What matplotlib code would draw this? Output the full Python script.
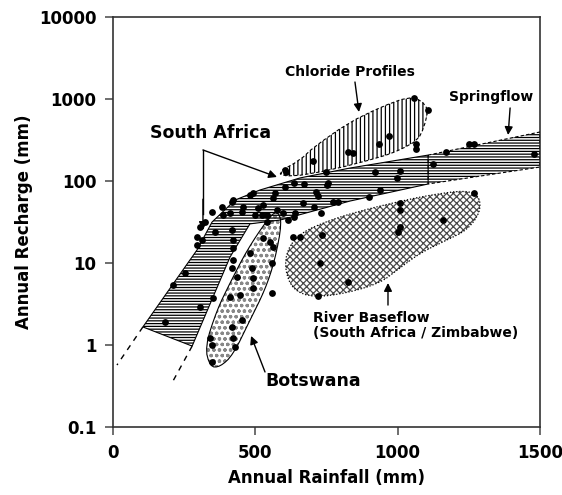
import numpy as np
import matplotlib
matplotlib.use('Agg')
import matplotlib.pyplot as plt
from matplotlib.patches import Polygon

plt.rcParams['font.family'] = ['DejaVu Sans']
plt.rcParams['font.weight'] = 'bold'
plt.rcParams['axes.labelweight'] = 'bold'
plt.rcParams['hatch.linewidth'] = 0.9

# region outlines: annual rainfall (mm), annual recharge (mm)
sa_x = [105, 295, 348, 429, 516, 657, 833, 1107, 1107, 833, 587, 481, 411, 278]
sa_y = [1.66, 14.4, 31.6, 58.6, 77.6, 109, 144, 207, 92, 57, 33.4, 30, 11.8, 0.97]

spring_x = [1107, 1500, 1500, 1107]
spring_y = [207, 396, 148, 92]

chloride_x = [576, 657, 706, 826, 941, 1036, 1082, 1107, 1093, 1071, 1008, 941, 766, 622]
chloride_y = [125, 180, 260, 509, 798, 1057, 972, 735, 456, 316, 239, 196, 136, 112]

bots_x = [341, 323, 365, 411, 471, 541, 576, 594, 569, 534, 481, 422, 376]
bots_y = [0.54, 0.95, 2.67, 5.7, 14.4, 33.4, 44, 31.6, 10.9, 4.7, 2.0, 0.76, 0.54]

base_x = [611, 657, 762, 878, 998, 1114, 1244, 1289, 1289, 1244, 1173, 1078,
          998, 938, 822, 703, 632, 604]
base_y = [14.4, 23.2, 33.4, 44, 55.5, 67.5, 77.6, 63.8, 40.7, 25.2, 19.1, 13.2,
          8.2, 5.7, 4.3, 3.8, 4.7, 8.2]

# extrapolation (dashed) lines
ext1_x = [105, 14]
ext1_y = [1.66, 0.57]
ext2_x = [278, 207]
ext2_y = [0.97, 0.344]

# observations
pts_x = [1057, 1107, 970, 934, 1064, 1064, 826, 843, 703, 608, 748,
         1251, 1268, 1170, 1479, 1124,
         920, 1008, 998, 636, 671, 755, 713, 720, 938, 899, 773, 790, 667, 706,
         731, 1008, 1008, 1159, 1268, 1008, 1001, 636, 632, 734, 727, 826, 720,
         604, 569, 562, 527, 509, 523, 541, 615,
         481, 418, 383, 453, 348, 499, 418, 295, 313, 422, 457,
         422, 418, 488, 559, 436, 492, 492, 446, 351, 306, 559, 453, 418, 341,
         348, 422, 429, 348,
         253, 211, 183, 411, 358, 411, 541, 422, 527, 552, 481, 562, 295, 323,
         597, 639, 576, 386, 306, 422, 492, 604, 752, 657]
pts_y = [1030, 734, 354, 283, 283, 246, 226, 219, 175, 129, 129,
         283, 283, 226, 213, 161,
         129, 132, 109, 94.6, 92, 94.6, 73.5, 65.6, 77.6, 63.8, 55.5, 55.5, 53.9, 48.2,
         40.7, 53.9, 44.3, 33.4, 71.4, 27.5, 23.9, 36.4, 20.8, 21.9, 10, 5.87, 3.96,
         84.5, 71.4, 62, 51, 46.9, 38.5, 31.6, 33.4,
         67.5, 55.5, 48.2, 41.9, 41.9, 38.5, 25.3, 16.6, 19.1, 15.2, 48.2,
         10.9, 8.7, 8.7, 10, 6.75, 6.56, 4.96, 4.07, 3.74, 2.91, 4.31, 2.02, 1.66, 1.22,
         1.0, 1.22, 0.95, 0.62,
         7.55, 5.39, 1.91, 3.85, 23.9, 40.7, 38.5, 19.1, 20.2, 18, 13.2, 15.7, 20.8, 31.6,
         40.7, 40.7, 44.3, 38.5, 27.5, 58.6, 71.4, 136, 89.4, 20.8]


def smooth(x, y, n=2):
    # corner cutting in (x, log y) so the closed outlines look rounded
    p = np.column_stack([np.asarray(x, float), np.log10(y)])
    for _ in range(n):
        q = np.roll(p, -1, axis=0)
        a = 0.75 * p + 0.25 * q
        b = 0.25 * p + 0.75 * q
        p = np.empty((2 * len(a), 2))
        p[0::2] = a
        p[1::2] = b
    return np.column_stack([p[:, 0], 10 ** p[:, 1]])


def region(ax, xy, hatch, hcolor='black', ls='-', lw=0.8):
    ax.add_patch(Polygon(xy, closed=True, fill=False, hatch=hatch,
                         edgecolor=hcolor, linewidth=0, zorder=1))
    ax.add_patch(Polygon(xy, closed=True, fill=False, edgecolor='black',
                         linestyle=ls, linewidth=lw, zorder=3))


fig = plt.figure(figsize=(5.62, 4.95), dpi=100)
ax = fig.add_axes([113 / 562, 1 - 427 / 495, 427 / 562, 410 / 495])
ax.set_yscale('log')
ax.set_xlim(0, 1500)
ax.set_ylim(0.1, 10000)

region(ax, smooth(base_x, base_y), 'xxxxx', hcolor='#4a4a4a', ls=(0, (1, 1.5)), lw=0.9)
region(ax, smooth(bots_x, bots_y), 'ooo', hcolor='#888888', lw=0.8)
region(ax, smooth(chloride_x, chloride_y, 1), '||||', ls=(0, (3, 2)))
region(ax, np.column_stack([sa_x, sa_y]), '------')
region(ax, np.column_stack([spring_x, spring_y]), '------', ls=(0, (3, 2)))

ax.plot(ext1_x, ext1_y, color='black', lw=1, ls=(0, (4, 4)))
ax.plot(ext2_x, ext2_y, color='black', lw=1, ls=(0, (4, 4)))

ax.scatter(pts_x, pts_y, s=24, color='black', zorder=4, linewidths=0)

arrow = dict(arrowstyle='-|>', color='black', lw=1, mutation_scale=12,
             shrinkA=0, shrinkB=0)
ax.text(833, 2134, 'Chloride Profiles', fontsize=10, ha='center', va='center')
ax.annotate('', xy=(864, 694), xytext=(850, 1611), arrowprops=arrow)

ax.text(1327, 1057, 'Springflow', fontsize=10, ha='center', va='center')
ax.annotate('', xy=(1388, 364), xytext=(1395, 777), arrowprops=arrow)

ax.text(341, 385, 'South Africa', fontsize=12.5, ha='center', va='center')
ax.plot([316, 316], [239, 40], color='black', lw=1)
ax.annotate('', xy=(316, 25.3), xytext=(316, 60), arrowprops=arrow)
ax.annotate('', xy=(576, 112), xytext=(316, 239), arrowprops=arrow)

ax.text(702, 0.364, 'Botswana', fontsize=12.5, ha='center', va='center')
ax.annotate('', xy=(485, 1.29), xytext=(534, 0.469), arrowprops=arrow)

ax.text(703, 1.71, 'River Baseflow\n(South Africa / Zimbabwe)', fontsize=10,
        ha='left', va='center', linespacing=1.1)
ax.annotate('', xy=(966, 5.7), xytext=(966, 3.07), arrowprops=arrow)

ax.set_xticks([0, 500, 1000, 1500])
ax.set_xticklabels(['0', '500', '1000', '1500'])
ax.set_yticks([0.1, 1, 10, 100, 1000, 10000])
ax.set_yticklabels(['0.1', '1', '10', '100', '1000', '10000'])
ax.minorticks_off()
ax.tick_params(labelsize=12, length=6, width=1.2, color='#555555', pad=6)
for s in ax.spines.values():
    s.set_linewidth(1.2)
    s.set_color('#333333')

ax.set_xlabel('Annual Rainfall (mm)', fontsize=12, labelpad=5)
ax.set_ylabel('Annual Recharge (mm)', fontsize=12, labelpad=4)

fig.savefig('out.png', dpi=100)
